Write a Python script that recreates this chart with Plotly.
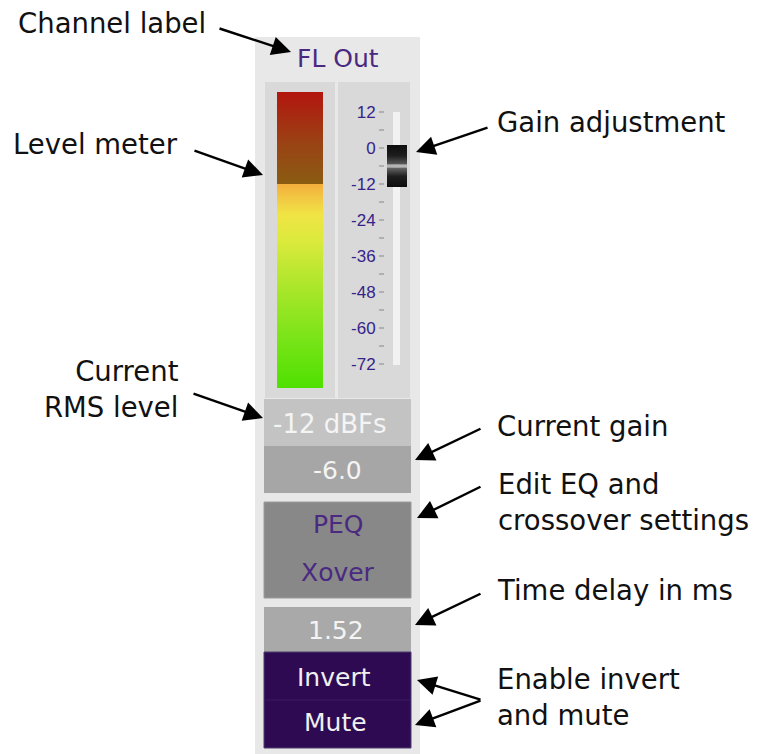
import plotly.graph_objects as go

W, H = 758, 754
PAGE_OFF = 8  # browser body margin; figure is sized so the page does not overflow

# ---------------- data ----------------
channel_label = "FL Out"
scale_major_db = [12, 0, -12, -24, -36, -48, -60, -72]
scale_minor_db = [6, -6, -18, -30, -42, -54, -66]
rms_level_dbfs = -12
gain_db = -6.0
delay_ms = 1.52
eq_buttons = ["PEQ", "Xover"]
state_buttons = ["Invert", "Mute"]

left_callouts = ["Channel label", "Level meter", "Current<br>RMS level"]
right_callouts = ["Gain adjustment", "Current gain", "Edit EQ and<br>crossover settings",
                  "Time delay in ms", "Enable invert<br>and mute"]

# ---------------- style / geometry ----------------
DB0_PX = 148.0      # pixel row of 0 dB on the fader scale
PX_PER_DB = 3.0
db_top = (DB0_PX - PAGE_OFF) / PX_PER_DB
db_bottom = (DB0_PX - H) / PX_PER_DB
METER_TOP_DB = 18.67
METER_BOTTOM_DB = -80.0

FONT = "DejaVu Sans"
UI_PURPLE = "#4a2a80"

fig = go.Figure()

shapes = []
def rect(x0, y0, x1, y1, fill, line=None, yref="y"):
    shapes.append(dict(type="rect", xref="x", yref=yref, x0=x0, x1=x1, y0=y0, y1=y1,
                       fillcolor=fill, line=dict(width=1 if line else 0, color=line or fill),
                       layer="below"))

# panel & backgrounds
rect(255, 37, 420, 760, "#e8e8e8")
rect(265, 82, 335, 398, "#d9d9d9")
rect(338, 82, 410, 398, "#d9d9d9")
rect(264, 399, 411, 446, "#c3c3c3")
rect(264, 446, 411, 493, "#a6a6a6")
rect(264, 502, 411, 598, "#888888", line="#9c9c9c")
rect(264, 607, 411, 652, "#a9a9a9")
rect(264, 652, 411, 748, "#2e0a52", line="#4e3c70")
shapes.append(dict(type="line", xref="x", yref="y", x0=265, x1=410, y0=700, y1=700,
                   line=dict(color="#3a1a60", width=1), layer="below"))
# fader track, spans the scale
rect(393, max(scale_major_db), 400, min(scale_major_db) - 0.3, "#f2f2f2", yref="y2")

# ---------------- meter (on dB axis) ----------------
mx0, mx1 = 277, 323
fig.add_trace(go.Scatter(
    x=[mx0, mx1, mx1, mx0, mx0],
    y=[rms_level_dbfs, rms_level_dbfs, METER_TOP_DB, METER_TOP_DB, rms_level_dbfs],
    yaxis="y2", mode="lines", line=dict(width=0), fill="toself",
    fillgradient=dict(type="vertical", start=rms_level_dbfs, stop=METER_TOP_DB,
                      colorscale=[[0, "#8a5c12"], [0.45, "#9a4214"], [1, "#b3150f"]]),
    hoverinfo="skip", showlegend=False))
fig.add_trace(go.Scatter(
    x=[mx0, mx1, mx1, mx0, mx0],
    y=[METER_BOTTOM_DB, METER_BOTTOM_DB, rms_level_dbfs, rms_level_dbfs, METER_BOTTOM_DB],
    yaxis="y2", mode="lines", line=dict(width=0), fill="toself",
    fillgradient=dict(type="vertical", start=METER_BOTTOM_DB, stop=rms_level_dbfs,
                      colorscale=[[0, "#4fe000"], [0.235, "#78e418"], [0.48, "#a8e62a"],
                                  [0.725, "#dcea3c"], [0.85, "#f0e444"], [0.92, "#f2cc44"],
                                  [1, "#f4ae3c"]]),
    hoverinfo="skip", showlegend=False))

# ---------------- fader knob at gain ----------------
kx0, kx1 = 387, 407
k_half, k_gap = 7.0, 0.5
up = [gain_db + k_gap, gain_db + k_half]
lo = [gain_db - k_half, gain_db - k_gap]
fig.add_trace(go.Scatter(
    x=[kx0, kx1, kx1, kx0, kx0], y=[lo[1], lo[1], up[0], up[0], lo[1]],
    yaxis="y2", mode="lines", line=dict(width=0), fill="toself", fillcolor="#b4b4b4",
    hoverinfo="skip", showlegend=False))
fig.add_trace(go.Scatter(
    x=[kx0, kx1, kx1, kx0, kx0], y=[up[0], up[0], up[1], up[1], up[0]],
    yaxis="y2", mode="lines", line=dict(width=0), fill="toself",
    fillgradient=dict(type="vertical", start=up[0], stop=up[1],
                      colorscale=[[0, "#5a5a5a"], [0.45, "#1e1e1e"], [1, "#0c0c0c"]]),
    hoverinfo="skip", showlegend=False))
fig.add_trace(go.Scatter(
    x=[kx0, kx1, kx1, kx0, kx0], y=[lo[0], lo[0], lo[1], lo[1], lo[0]],
    yaxis="y2", mode="lines", line=dict(width=0), fill="toself",
    fillgradient=dict(type="vertical", start=lo[0], stop=lo[1],
                      colorscale=[[0, "#0c0c0c"], [0.55, "#1e1e1e"], [1, "#6a6a6a"]]),
    hoverinfo="skip", showlegend=False))

# ---------------- annotations ----------------
ann = []
def ui_text(x, y, text, color, size=25):
    ann.append(dict(x=x, y=y, xref="x", yref="y", text=text, showarrow=False,
                    font=dict(family=FONT, size=size, color=color),
                    xanchor="center", yanchor="middle"))

ui_text(338, 58, channel_label, UI_PURPLE)
ui_text(330, 424, f"{rms_level_dbfs} dBFs", "#f4f4f4", size=26)
ui_text(337, 470, f"{gain_db:.1f}", "#f4f4f4")
ui_text(338, 524, eq_buttons[0], UI_PURPLE)
ui_text(338, 572, eq_buttons[1], UI_PURPLE)
ui_text(336, 630, f"{delay_ms:.2f}", "#f4f4f4")
ui_text(334, 677, state_buttons[0], "#f0f0f0")
ui_text(335, 722, state_buttons[1], "#f0f0f0")

CF = dict(family=FONT, size=27.5, color="#111111")
def callout(x, y, text, xanchor, align):
    ann.append(dict(x=x, y=y, xref="x", yref="y", text=text, showarrow=False, font=CF,
                    xanchor=xanchor, yanchor="middle", align=align))

callout(16, 23, left_callouts[0], "left", "left")
callout(11, 144, left_callouts[1], "left", "left")
callout(181, 389, left_callouts[2], "right", "right")
callout(495, 122, right_callouts[0], "left", "left")
callout(495, 426, right_callouts[1], "left", "left")
callout(496, 502, right_callouts[2], "left", "left")
callout(495, 590, right_callouts[3], "left", "left")
callout(495, 697, right_callouts[4], "left", "left")

def arrow(tx, ty, hx, hy):
    ann.append(dict(x=hx, y=hy, ax=tx, ay=ty, xref="x", yref="y", axref="x", ayref="y",
                    text="", showarrow=True, arrowhead=2, arrowsize=1.6, arrowwidth=2.4,
                    arrowcolor="#000000", standoff=0, startstandoff=0))

arrow(218, 28, 291, 52)
arrow(193, 150, 263, 175)
arrow(192, 393, 263, 418)
arrow(489, 127, 416, 152)
arrow(482, 428, 415, 460)
arrow(482, 486, 417, 518)
arrow(482, 593, 415, 625)
arrow(482, 700, 417, 680)
arrow(482, 700, 415, 725)

scale_vals = sorted(scale_major_db + scale_minor_db, reverse=True)
scale_text = [str(v) if v in scale_major_db else "" for v in scale_vals]

fig.update_layout(
    width=W - PAGE_OFF, height=H - PAGE_OFF, margin=dict(l=0, r=0, t=0, b=0),
    paper_bgcolor="white", plot_bgcolor="white",
    xaxis=dict(range=[PAGE_OFF, W], visible=False, fixedrange=True),
    yaxis=dict(range=[H, PAGE_OFF], visible=False, fixedrange=True),
    yaxis2=dict(range=[db_bottom, db_top], overlaying="y", anchor="free",
                position=(384 - PAGE_OFF) / (W - PAGE_OFF), side="left", showgrid=False,
                zeroline=False, showline=False, tickmode="array", tickvals=scale_vals,
                ticktext=scale_text, ticks="outside", ticklen=5, tickwidth=2,
                tickcolor="#b0b0b0",
                tickfont=dict(family="Liberation Sans", size=17, color="#35238a"),
                fixedrange=True),
    shapes=shapes, annotations=ann, showlegend=False,
)

fig.write_html("out.html")
